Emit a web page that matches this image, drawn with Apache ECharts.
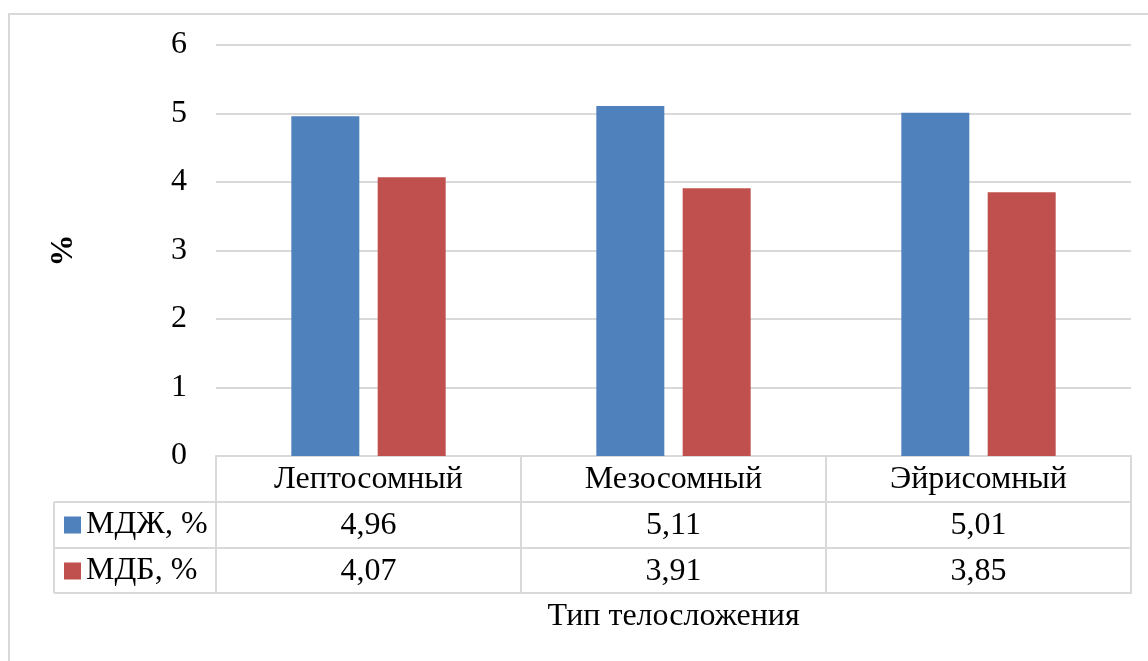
<!DOCTYPE html>
<html>
<head>
<meta charset="utf-8">
<style>
  html, body { margin: 0; padding: 0; background: #ffffff; }
  #chart { width: 1148px; height: 661px; }
</style>
<script src="https://cdn.jsdelivr.net/npm/echarts@6/dist/echarts.min.js"></script>
</head>
<body>
<div id="chart"></div>
<script>
// Body types and the two measured series
const categories = ['Лептосомный', 'Мезосомный', 'Эйрисомный'];
const seriesNames = ['МДЖ, %', 'МДБ, %'];
const mdzh = [4.96, 5.11, 5.01];
const mdb = [4.07, 3.91, 3.85];
const yTicks = [0, 1, 2, 3, 4, 5, 6];
const yAxisTitle = '%';
const xAxisTitle = 'Тип телосложения';

const FONT = "'Liberation Serif', 'Times New Roman', serif";
const FS = 32;
const LINE = '#d9d9d9';
const colors = ['#4F81BD', '#C0504D'];

// layout of the plot and of the data table below it
const W = 1148, H = 661;
const gridLeft = 216, gridRight = 17, gridTop = 45, gridBottom = 205;
const rowH = 46;
const tableLeft = 54;
const axisY = H - gridBottom;

const fmt = v => v.toFixed(2).replace('.', ',');

const chart = echarts.init(document.getElementById('chart'), null, { renderer: 'canvas' });

const labelStyle = { fontFamily: FONT, fontSize: FS, color: '#000', lineHeight: FS };

function tableAxis(data, offset, showLabel) {
  return {
    type: 'category',
    position: 'bottom',
    offset: offset,
    data: data,
    boundaryGap: true,
    axisLine: { show: true, lineStyle: { color: LINE, width: 2 } },
    axisTick: { show: false },
    axisLabel: Object.assign({ show: showLabel, margin: 8, interval: 0 }, labelStyle),
    splitLine: { show: false }
  };
}

const xAxes = [
  {
    type: 'category',
    position: 'bottom',
    data: categories,
    boundaryGap: true,
    axisLine: { show: true, lineStyle: { color: LINE, width: 2 } },
    axisTick: { show: true, alignWithLabel: false, inside: false, length: rowH * 3, lineStyle: { color: LINE, width: 2 } },
    axisLabel: Object.assign({ margin: 8, interval: 0 }, labelStyle),
    splitLine: { show: false }
  },
  tableAxis(mdzh.map(fmt), rowH, true),
  tableAxis(mdb.map(fmt), rowH * 2, true),
  Object.assign(tableAxis(categories, rowH * 3 - 1, false), {
    name: xAxisTitle,
    nameLocation: 'middle',
    nameGap: 8,
    nameTextStyle: labelStyle
  })
];

const option = {
  backgroundColor: '#ffffff',
  animation: false,
  textStyle: { fontFamily: FONT },
  grid: { left: gridLeft, right: gridRight, top: gridTop, bottom: gridBottom, containLabel: false },
  legend: {
    data: seriesNames,
    orient: 'vertical',
    left: 64,
    top: axisY + rowH + 7,
    padding: 0,
    itemWidth: 17,
    itemHeight: 17,
    itemGap: rowH - FS,
    icon: 'rect',
    selectedMode: false,
    textStyle: labelStyle
  },
  xAxis: xAxes,
  yAxis: {
    type: 'value',
    min: yTicks[0],
    max: yTicks[yTicks.length - 1],
    interval: 1,
    name: yAxisTitle,
    nameLocation: 'middle',
    nameRotate: 90,
    nameGap: 136,
    nameTextStyle: { fontFamily: FONT, fontSize: 32, fontWeight: 'bold', color: '#000' },
    axisLine: { show: false },
    axisTick: { show: false },
    axisLabel: Object.assign({ margin: 29 }, labelStyle),
    splitLine: { show: true, lineStyle: { color: LINE, width: 2 } }
  },
  series: [
    { name: seriesNames[0], type: 'bar', data: mdzh, xAxisIndex: 0, barWidth: 68, barGap: '27%', itemStyle: { color: colors[0] } },
    { name: seriesNames[1], type: 'bar', data: mdb, xAxisIndex: 0, barWidth: 68, itemStyle: { color: colors[1] } }
  ],
  graphic: [
    // outer chart frame
    { type: 'rect', shape: { x: 9, y: 14, width: 1300, height: 800 }, style: { fill: 'none', stroke: LINE, lineWidth: 2 }, silent: true, z: -1 },
    // legend column of the data table
    { type: 'line', shape: { x1: tableLeft, y1: axisY + rowH, x2: gridLeft, y2: axisY + rowH }, style: { stroke: LINE, lineWidth: 2 }, silent: true },
    { type: 'line', shape: { x1: tableLeft, y1: axisY + rowH * 2, x2: gridLeft, y2: axisY + rowH * 2 }, style: { stroke: LINE, lineWidth: 2 }, silent: true },
    { type: 'line', shape: { x1: tableLeft, y1: axisY + rowH * 3 - 1, x2: gridLeft, y2: axisY + rowH * 3 - 1 }, style: { stroke: LINE, lineWidth: 2 }, silent: true },
    { type: 'line', shape: { x1: tableLeft, y1: axisY + rowH, x2: tableLeft, y2: axisY + rowH * 3 - 1 }, style: { stroke: LINE, lineWidth: 2 }, silent: true }
  ]
};

chart.setOption(option);
</script>
</body>
</html>
